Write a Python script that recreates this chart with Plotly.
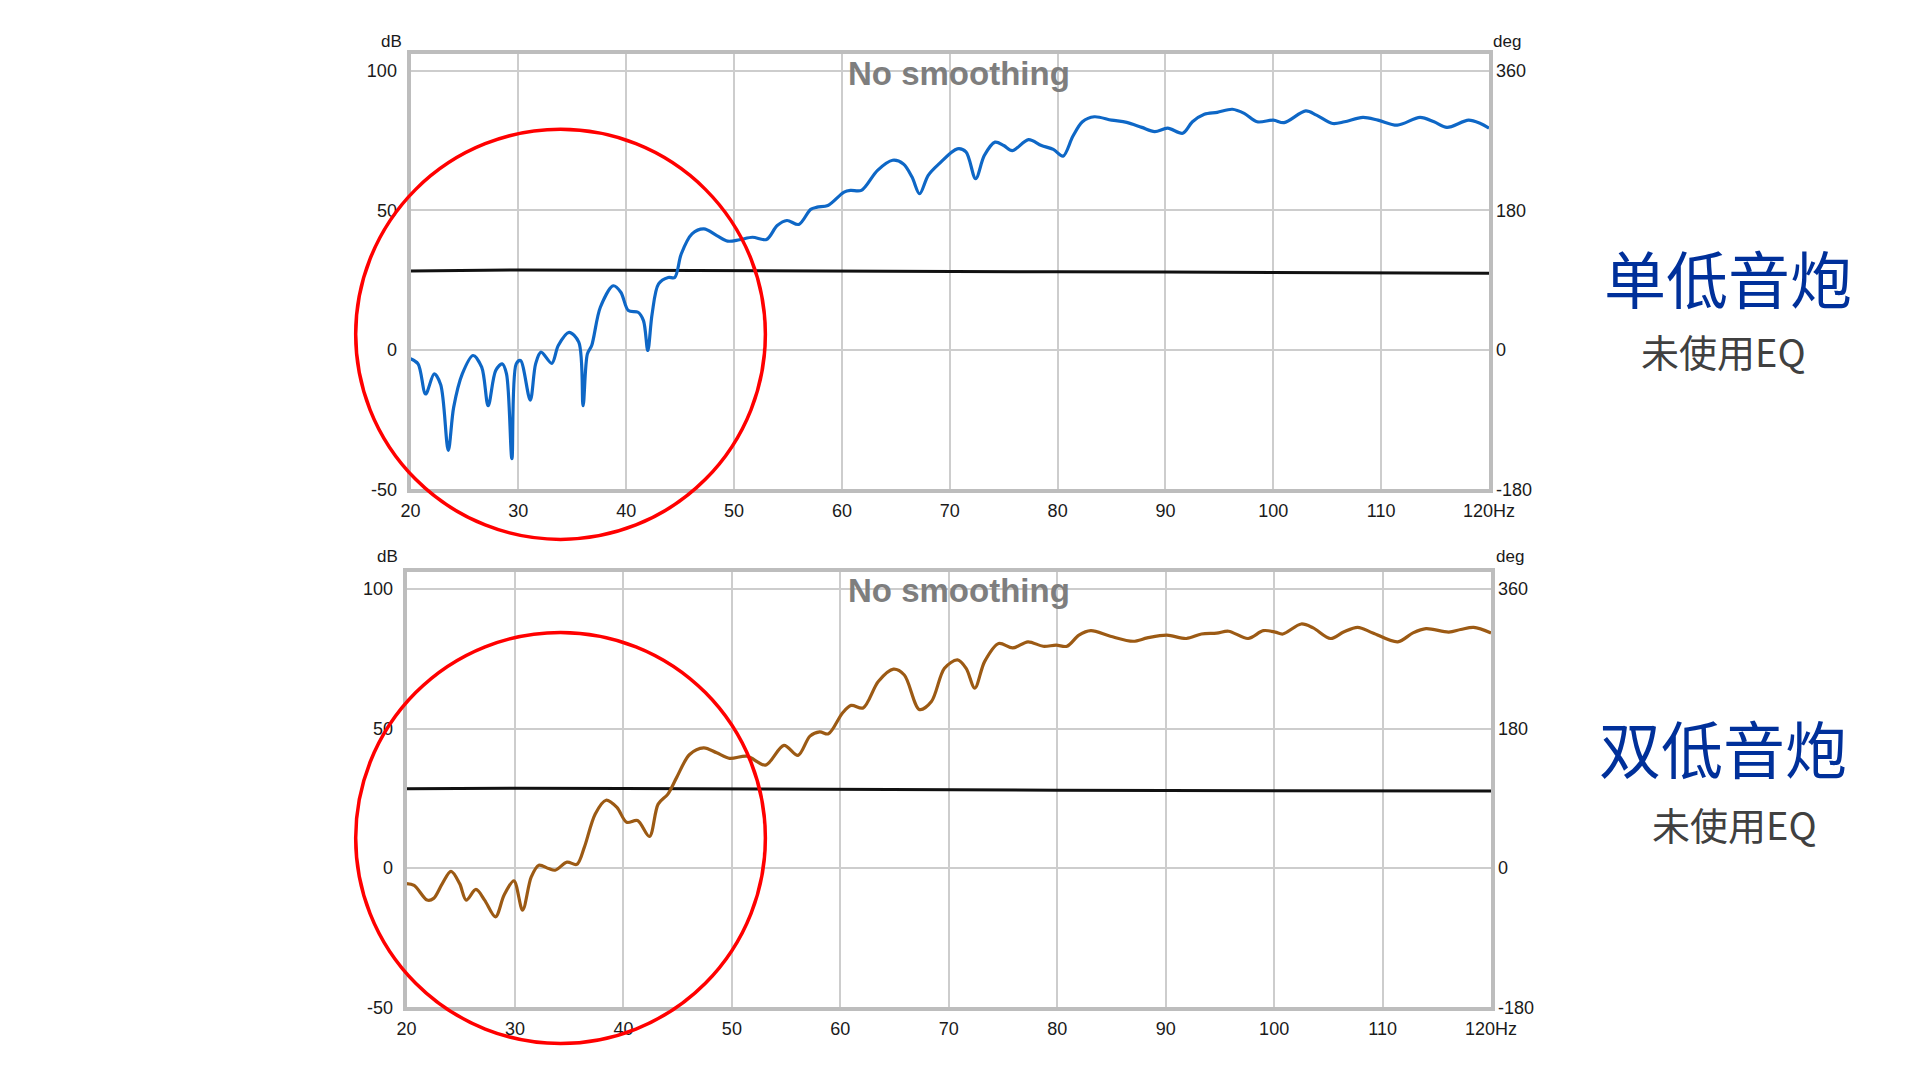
import plotly.graph_objects as go

# ---------------- data ----------------
top_freq = [20.0, 20.7, 21.4, 22.2, 22.8, 23.5, 24.0, 24.8, 25.8, 26.6, 27.2, 27.9, 28.5, 28.9,
            29.4, 29.8, 30.2, 31.1, 31.6, 32.1, 33.1, 33.7, 34.7, 35.6, 36.0, 36.4, 36.8, 37.6,
            38.8, 39.5, 40.2, 41.1, 41.6, 42.0, 42.4, 43.0, 43.9, 44.5, 45.1, 46.1, 47.2, 48.4,
            49.4, 50.5, 51.7, 53.0, 54.0, 54.9, 56.0, 57.1, 57.7, 58.7, 60.2, 60.8, 61.8, 63.3,
            64.7, 65.7, 66.5, 67.2, 68.0, 69.0, 70.7, 71.5, 72.4, 73.2, 74.2, 75.0, 75.8, 77.3,
            78.5, 79.6, 80.5, 81.4, 82.3, 83.4, 85.0, 86.4, 87.8, 89.0, 90.2, 91.6, 92.5, 93.6,
            94.8, 96.2, 97.3, 98.5, 100.0, 101.0, 103.0, 104.0, 105.5, 106.6, 108.3, 109.7,
            111.5, 113.6, 114.9, 116.1, 118.1, 119.2, 120.0]
top_db = [-3.2, -5.0, -15.8, -8.6, -12.5, -36.0, -20.6, -8.6, -2.0, -6.2, -20.0, -7.4, -5.0, -8.6,
          -39.0, -5.0, -3.8, -18.0, -5.0, -0.8, -4.8, 1.6, 6.3, 2.8, -20.0, -1.4, 1.6, 15.3,
          23.0, 20.7, 14.1, 13.5, 10.5, -0.2, 12.9, 23.7, 26.0, 26.0, 34.4, 41.6, 43.4, 41.0,
          39.0, 39.5, 40.4, 39.6, 44.6, 46.4, 45.0, 50.4, 51.2, 51.8, 56.6, 57.2, 57.2, 64.4,
          68.0, 66.7, 62.0, 56.0, 62.6, 66.7, 72.1, 71.0, 61.4, 69.7, 74.5, 73.3, 71.5, 75.4,
          73.3, 71.9, 69.5, 76.5, 81.8, 83.6, 82.4, 81.6, 79.8, 78.3, 79.5, 77.7, 81.8, 84.5,
          85.2, 86.3, 84.8, 81.8, 82.4, 81.5, 85.7, 84.2, 81.2, 81.8, 83.4, 82.4,
          80.6, 83.4, 81.8, 79.8, 82.4, 81.2, 79.5]

bot_freq = [20.0, 20.7, 21.9, 22.5, 23.3, 24.1, 24.9, 25.5, 26.4, 27.2, 28.2, 29.0, 29.9, 30.7,
            31.5, 32.2, 33.1, 33.7, 34.8, 35.7, 36.4, 37.4, 38.4, 39.4, 40.3, 41.3, 42.4, 43.2,
            44.1, 44.9, 46.1, 47.4, 48.6, 49.8, 51.4, 53.1, 54.8, 56.1, 57.2, 58.1, 58.9, 60.2,
            61.0, 62.1, 63.5, 64.9, 65.9, 67.3, 68.4, 69.6, 70.8, 71.6, 72.4, 73.3, 74.6, 75.9,
            77.3, 78.7, 79.9, 80.9, 82.0, 83.1, 84.9, 87.0, 88.3, 90.1, 91.9, 93.3, 94.7, 95.8,
            97.6, 99.0, 100.1, 100.8, 102.5, 103.6, 105.2, 106.4, 107.7, 109.1, 111.4, 112.8,
            114.0, 116.1, 117.2, 118.4, 120.0]
bot_db = [-5.6, -6.2, -11.5, -10.9, -5.6, -1.2, -5.6, -11.5, -7.7, -11.5, -17.5, -9.7, -4.6, -15.1,
          -3.2, 1.0, -0.2, -0.8, 2.1, 1.3, 7.5, 19.4, 24.3, 21.7, 16.4, 17.0, 11.3, 22.9,
          26.5, 32.4, 40.7, 43.1, 41.3, 39.3, 40.1, 36.9, 44.0, 40.4, 47.3, 48.8, 48.1, 55.6,
          58.3, 57.4, 66.9, 71.3, 69.2, 56.8, 59.7, 71.6, 74.6, 71.6, 64.5, 74.0, 80.5, 78.9,
          81.1, 79.5, 79.9, 79.5, 83.5, 85.1, 83.1, 81.3, 82.5, 83.5, 82.3, 83.9, 84.2, 84.9,
          82.3, 85.1, 84.6, 83.9, 87.5, 86.1, 82.3, 84.6, 86.3, 84.3, 81.1, 84.3,
          85.8, 84.6, 85.5, 86.3, 84.3]

ref_freq = [20, 30, 40, 50, 60, 70, 80, 90, 100, 110, 120]
top_ref_db = [28.3, 28.7, 28.6, 28.4, 28.2, 28.1, 28.0, 27.9, 27.8, 27.6, 27.5]
bot_ref_db = [28.4, 28.6, 28.5, 28.3, 28.1, 28.0, 27.9, 27.8, 27.7, 27.6, 27.6]

x_ticks = [20, 30, 40, 50, 60, 70, 80, 90, 100, 110, 120]
x_ticktext = ["20", "30", "40", "50", "60", "70", "80", "90", "100", "110", "120Hz"]
db_ticks = [-50, 0, 50, 100]
db_ticktext = ["-50", "0", "50", "100"]
deg_ticks = [-180, 0, 180, 360]
deg_ticktext = ["-180", "0", "180", "360"]

titles = ["单低音炮", "双低音炮"]
subtitle = "未使用EQ"
overlay_label = "No smoothing"

# ---------------- figure ----------------
W, H = 1920, 1080
# pixel -> paper helpers (small correction so the photographed page lands on target pixels)
def px(x):
    return ((x - 6.2) / 0.9844) / W
def py(y):
    return 1 - ((y - 0.7) / 0.9906) / H

fig = go.Figure()

fig.add_trace(go.Scatter(x=ref_freq, y=top_ref_db, mode="lines", line=dict(color="#111111", width=3),
                         xaxis="x", yaxis="y", hoverinfo="skip", showlegend=False))
fig.add_trace(go.Scatter(x=top_freq, y=top_db, mode="lines",
                         line=dict(color="#0E67C6", width=3.2, shape="spline", smoothing=0.9),
                         xaxis="x", yaxis="y", showlegend=False))
fig.add_trace(go.Scatter(x=[None], y=[None], xaxis="x", yaxis="y2", showlegend=False))

fig.add_trace(go.Scatter(x=ref_freq, y=bot_ref_db, mode="lines", line=dict(color="#111111", width=3),
                         xaxis="x2", yaxis="y3", hoverinfo="skip", showlegend=False))
fig.add_trace(go.Scatter(x=bot_freq, y=bot_db, mode="lines",
                         line=dict(color="#9C5A14", width=3.2, shape="spline", smoothing=0.9),
                         xaxis="x2", yaxis="y3", showlegend=False))
fig.add_trace(go.Scatter(x=[None], y=[None], xaxis="x2", yaxis="y4", showlegend=False))

db_range = [-50, 106]
deg_range = [-180, 381.6]
tickfont = dict(family="Arial", size=18, color="#1a1a1a")
grid = dict(showgrid=True, gridcolor="#CDCDCD", gridwidth=1.6, zeroline=False,
            showline=True, linecolor="#BDBDBD", linewidth=4, mirror=True, ticks="",
            tickfont=tickfont)

def xaxis(domain, anchor):
    return dict(domain=domain, anchor=anchor, range=[20, 120], tickvals=x_ticks,
                ticktext=x_ticktext, ticklabelstandoff=2, **grid)

def yaxis(domain, anchor):
    return dict(domain=domain, anchor=anchor, range=db_range, tickvals=db_ticks,
                ticktext=db_ticktext, ticklabelstandoff=6, **grid)

def yaxis_r(overlay, anchor):
    return dict(overlaying=overlay, anchor=anchor, side="right", range=deg_range,
                tickvals=deg_ticks, ticktext=deg_ticktext, showgrid=False, zeroline=False,
                showline=False, ticks="", tickfont=tickfont, ticklabelstandoff=6)

top_x = [px(408), px(1490)]
top_y = [py(490), py(55)]
bot_x = [px(404), px(1492)]
bot_y = [py(1008), py(573)]

annotations = []
for (title_x, title_y, sub_x, sub_y, db_pos, deg_pos, lab_y, title) in [
    (1730, 278, 1725, 351, (389, 42), (1508, 42), 74, titles[0]),
    (1725, 748, 1736, 824, (385, 557), (1511, 557), 591, titles[1]),
]:
    annotations.append(dict(x=px(db_pos[0]), y=py(db_pos[1]), xref="paper", yref="paper",
                            text="dB", showarrow=False, font=dict(family="Arial", size=17, color="#1a1a1a"),
                            xanchor="center", yanchor="middle"))
    annotations.append(dict(x=px(deg_pos[0]), y=py(deg_pos[1]), xref="paper", yref="paper",
                            text="deg", showarrow=False, font=dict(family="Arial", size=17, color="#1a1a1a"),
                            xanchor="center", yanchor="middle"))
    annotations.append(dict(x=px(958), y=py(lab_y), xref="paper", yref="paper",
                            text="<b>" + overlay_label + "</b>", showarrow=False,
                            font=dict(family="Arial", size=33, color="#7E7E7E"),
                            xanchor="center", yanchor="middle"))
    annotations.append(dict(x=px(title_x), y=py(title_y), xref="paper", yref="paper",
                            text=title, showarrow=False,
                            font=dict(family="Noto Sans CJK SC", size=62, color="#00309A"),
                            xanchor="center", yanchor="middle"))
    annotations.append(dict(x=px(sub_x), y=py(sub_y), xref="paper", yref="paper",
                            text=subtitle, showarrow=False,
                            font=dict(family="Noto Sans CJK SC", size=38, color="#404040"),
                            xanchor="center", yanchor="middle"))

shapes = [
    dict(type="circle", xref="paper", yref="paper", x0=px(353), x1=px(764), y0=py(540), y1=py(130),
         line=dict(color="#FF0000", width=3.5), layer="above"),
    dict(type="circle", xref="paper", yref="paper", x0=px(353), x1=px(764), y0=py(1044), y1=py(633),
         line=dict(color="#FF0000", width=3.5), layer="above"),
]

fig.update_layout(
    width=W, height=H,
    margin=dict(l=0, r=0, t=0, b=0),
    paper_bgcolor="white", plot_bgcolor="white",
    xaxis=xaxis(top_x, "y"),
    yaxis=yaxis(top_y, "x"),
    yaxis2=yaxis_r("y", "x"),
    xaxis2=xaxis(bot_x, "y3"),
    yaxis3=yaxis(bot_y, "x2"),
    yaxis4=yaxis_r("y3", "x2"),
    annotations=annotations,
    shapes=shapes,
    showlegend=False,
)

fig.write_html(
    "out.html",
    config={"responsive": False, "displayModeBar": False},
    post_script="document.documentElement.style.margin='0';document.body.style.margin='0';"
                "document.body.style.overflow='hidden';",
)
